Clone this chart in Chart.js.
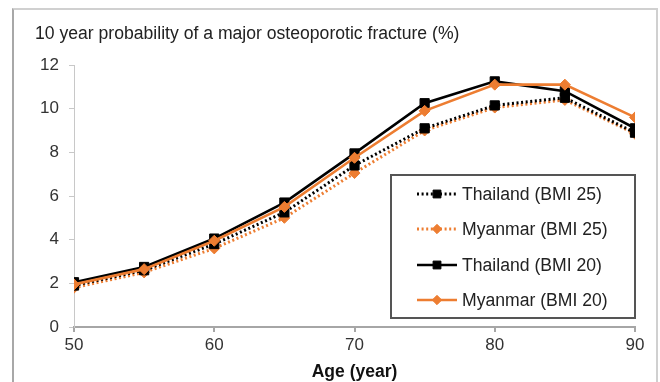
<!DOCTYPE html>
<html>
<head>
<meta charset="utf-8">
<script src="https://cdn.jsdelivr.net/npm/chart.js@4.4.0/dist/chart.umd.min.js"></script>
<style>
  html, body { margin: 0; padding: 0; background: #fff; }
  body { width: 660px; height: 382px; overflow: hidden; position: relative; }
  .frame {
    position: absolute; left: 12px; top: 8px; width: 642px; height: 400px;
    border: 2px solid #d0d0d0; border-left-color: #a8a8a8;
  }
  #chart { position: absolute; left: 0; top: 0; }
</style>
</head>
<body>
<div class="frame"></div>
<canvas id="chart" width="660" height="382"></canvas>
<script>
/* FRAX curves: Thailand vs Myanmar, two BMI levels */
const ages = [50, 55, 60, 65, 70, 75, 80, 85, 90];
const xTicks = [50, 60, 70, 80, 90];
const yTicks = [0, 2, 4, 6, 8, 10, 12];

const thailandBmi25 = [1.9, 2.6, 3.8, 5.25, 7.4, 9.1, 10.15, 10.5, 8.9];
const myanmarBmi25 = [1.8, 2.5, 3.6, 5.0, 7.05, 9.0, 10.05, 10.4, 8.85];
const thailandBmi20 = [2.05, 2.75, 4.05, 5.7, 7.95, 10.25, 11.25, 10.8, 9.1];
const myanmarBmi20 = [1.95, 2.65, 3.95, 5.5, 7.75, 9.9, 11.1, 11.1, 9.6];

const chartTitle = '10 year probability of a major osteoporotic fracture (%)';
const xTitle = 'Age (year)';

const BLACK = '#000000';
const ORANGE = '#ED7D31';
const FONT = '"Liberation Sans", Arial, sans-serif';

const toPoints = (vals) => vals.map((v, i) => ({ x: ages[i], y: v }));

function series(label, vals, color, dotted, shape, order) {
    return {
        label,
        data: toPoints(vals),
        borderColor: color,
        backgroundColor: color,
        borderWidth: dotted ? 3 : 2.6,
        borderDash: dotted ? [2, 2.6] : [],
        pointStyle: shape,
        pointRadius: shape === 'rect' ? 6.5 : 5.5,
        pointBorderWidth: 1,
        pointBorderColor: color,
        pointBackgroundColor: color,
        tension: 0,
        order,
    };
}

// title text and the boxed legend in the lower right of the plot
const decorations = {
    id: 'decorations',
    afterDraw(chart) {
        const ctx = chart.ctx;
        const area = chart.chartArea;
        ctx.save();
        ctx.fillStyle = '#222';
        ctx.font = '17.6px ' + FONT;
        ctx.textBaseline = 'middle';
        ctx.textAlign = 'left';
        ctx.fillText(chartTitle, 35, 34);

        const box = { left: 391, top: 175, right: area.right, bottom: area.bottom - 9 };
        ctx.fillStyle = '#fff';
        ctx.fillRect(box.left, box.top, box.right - box.left, box.bottom - box.top);
        ctx.strokeStyle = '#555';
        ctx.lineWidth = 2;
        ctx.strokeRect(box.left, box.top, box.right - box.left, box.bottom - box.top);

        const rowY = [194, 229, 265, 300];
        chart.data.datasets.forEach((ds, i) => {
            const y = rowY[i];
            ctx.save();
            ctx.strokeStyle = ds.borderColor;
            ctx.lineWidth = ds.borderWidth;
            ctx.setLineDash(ds.borderDash);
            ctx.beginPath();
            ctx.moveTo(417, y);
            ctx.lineTo(457, y);
            ctx.stroke();
            ctx.setLineDash([]);
            ctx.fillStyle = ds.pointBackgroundColor;
            ctx.strokeStyle = ds.pointBorderColor;
            ctx.lineWidth = 1;
            Chart.helpers.drawPoint(ctx, {
                pointStyle: ds.pointStyle,
                rotation: 0,
                radius: ds.pointRadius * 0.85,
                borderWidth: 1,
            }, 437, y);
            ctx.restore();
            ctx.fillStyle = '#222';
            ctx.font = '17.6px ' + FONT;
            ctx.textBaseline = 'middle';
            ctx.fillText(ds.label, 462, y + 1);
        });
        ctx.restore();
    },
};

new Chart(document.getElementById('chart'), {
    type: 'line',
    data: {
        datasets: [
            series('Thailand (BMI 25)', thailandBmi25, BLACK, true, 'rect', 1),
            series('Myanmar (BMI 25)', myanmarBmi25, ORANGE, true, 'rectRot', 2),
            series('Thailand (BMI 20)', thailandBmi20, BLACK, false, 'rect', 3),
            series('Myanmar (BMI 20)', myanmarBmi20, ORANGE, false, 'rectRot', 0),
        ],
    },
    options: {
        responsive: false,
        animation: false,
        layout: { padding: { left: 0, top: 65, right: 25, bottom: 0 } },
        plugins: {
            legend: { display: false },
            title: { display: false },
            tooltip: { enabled: false },
        },
        scales: {
            x: {
                type: 'linear',
                min: 50,
                max: 90,
                afterBuildTicks: (scale) => { scale.ticks = xTicks.map(v => ({ value: v })); },
                afterFit: (scale) => { scale.height = 55; },
                ticks: { color: '#333', font: { family: FONT, size: 17 }, padding: 3 },
                grid: { drawOnChartArea: false, tickLength: 5, color: '#a6a6a6', lineWidth: 2 },
                border: { color: '#a6a6a6', width: 2 },
                title: {
                    display: true,
                    text: xTitle,
                    color: '#111',
                    font: { family: FONT, size: 17.5, weight: 'bold' },
                    padding: { top: 2, bottom: -1 },
                },
            },
            y: {
                min: 0,
                max: 12,
                afterBuildTicks: (scale) => { scale.ticks = yTicks.map(v => ({ value: v })); },
                afterFit: (scale) => { scale.width = 74; },
                ticks: { color: '#333', font: { family: FONT, size: 17 }, padding: 10 },
                grid: { drawOnChartArea: false, tickLength: 5, color: '#c8c8c8', lineWidth: 1 },
                border: { color: '#c8c8c8', width: 1 },
            },
        },
    },
    plugins: [decorations],
});
</script>
</body>
</html>
